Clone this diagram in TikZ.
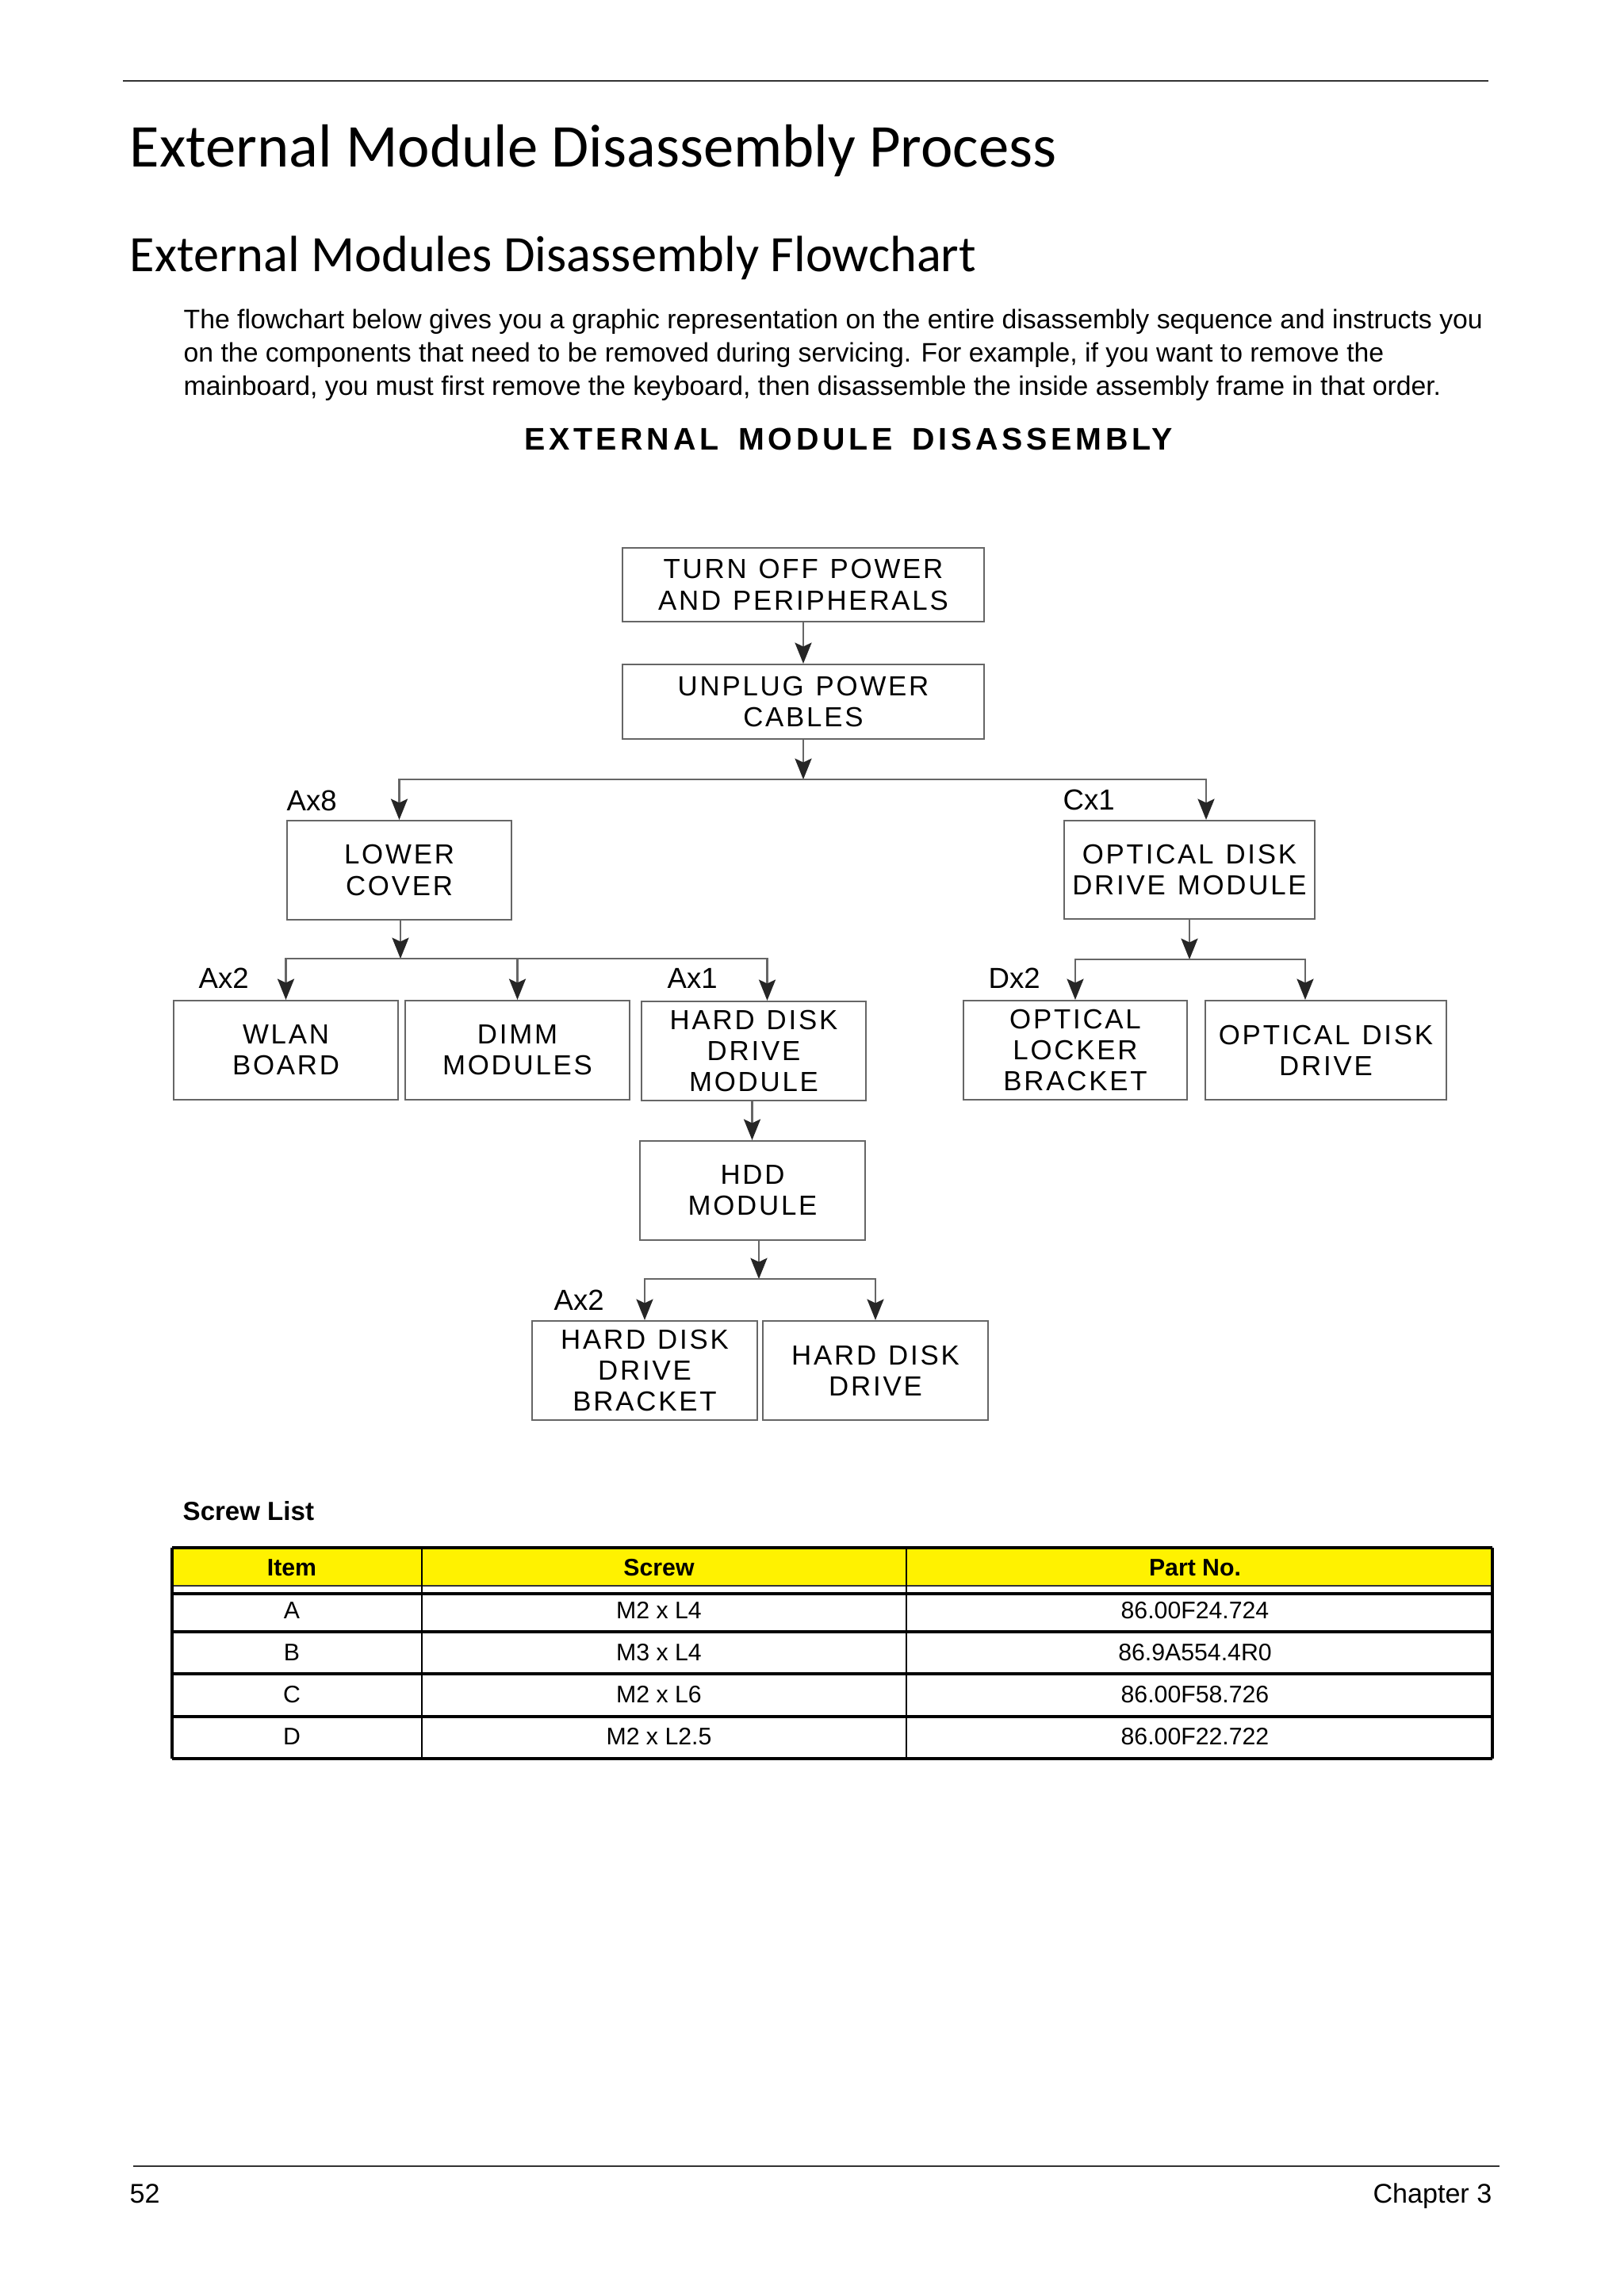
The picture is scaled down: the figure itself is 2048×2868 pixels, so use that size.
\documentclass[tikz,border=0pt]{standalone}
\usepackage{fontspec}
\setmainfont{Liberation Sans}
\newfontfamily\titlefont{Carlito}
\newfontfamily\boxfont[LetterSpace=8,WordSpace=1.2]{Liberation Sans}
\newfontfamily\headfont[LetterSpace=12,WordSpace=1.6]{Liberation Sans}
\usetikzlibrary{arrows.meta,positioning}

\tikzset{
  stepbox/.style={draw=black!60, line width=0.6pt, align=center, inner sep=0pt,
    font=\boxfont\fontsize{9.9}{11.1}\selectfont},
  unitbox/.style={stepbox, minimum width=2.83cm, minimum height=1.25cm},
  flow/.style={draw=black!60, line width=0.6pt,
    -{Stealth[length=7.5pt,width=6pt,inset=1.4pt,color=black!85]}},
  screwcount/.style={font=\fontsize{10.4}{12}\selectfont, anchor=base west, inner sep=0pt},
  cell/.style={font=\fontsize{8.6}{10}\selectfont, inner sep=0pt},
  headcell/.style={font=\bfseries\fontsize{8.6}{10}\selectfont, inner sep=0pt},
  pagerule/.style={line width=0.7pt, black!80},
}

\begin{document}
\begin{tikzpicture}[x=0.01cm,y=-0.01cm]

\useasboundingbox (0,0) rectangle (2048,2868);
\fill[white] (0,0) rectangle (2048,2868);

% page head
\draw[pagerule] (155,102) -- (1877,102);
\node[font=\titlefont\fontsize{21.8}{25}\selectfont, anchor=base west, inner sep=0pt] (title) at (163,210) {External Module Disassembly Process};
\node[font=\titlefont\fontsize{18.3}{21}\selectfont, anchor=base west, inner sep=0pt] (subtitle) at (163,342) {External Modules Disassembly Flowchart};
\node[font=\fontsize{9.6}{11.95}\selectfont, anchor=north west, inner sep=0pt, align=left] (intro) at (231,389)
  {The flowchart below gives you a graphic representation on the entire disassembly sequence and instructs you\\
   on the components that need to be removed during servicing. For example, if you want to remove the\\
   mainboard, you must first remove the keyboard, then disassemble the inside assembly frame in that order.};
\node[font=\headfont\bfseries\fontsize{11.2}{13}\selectfont, anchor=base, inner sep=0pt] (chart) at (1070,567) {EXTERNAL MODULE DISASSEMBLY};

% flowchart
\node[stepbox, minimum width=4.56cm, minimum height=0.93cm] (off) at (1013,737.5) {TURN OFF POWER\\AND PERIPHERALS};
\node[stepbox, minimum width=4.56cm, minimum height=0.94cm] (unplug) at (1013,885) {UNPLUG POWER\\CABLES};

\node[unitbox] (lower) at (503.5,1097.5) {LOWER\\COVER};
\node[stepbox, minimum width=3.16cm, minimum height=1.24cm] (odm) at (1500,1097) {OPTICAL DISK\\DRIVE MODULE};

\node[unitbox] (wlan) at (360.5,1324.5) {WLAN\\BOARD};
\node[unitbox] (dimm) at (652.5,1324.5) {DIMM\\MODULES};
\node[unitbox] (hddm) at (950.5,1325.5) {HARD DISK\\DRIVE\\MODULE};
\node[stepbox, minimum width=2.82cm, minimum height=1.25cm] (locker) at (1356,1324.5) {OPTICAL\\LOCKER\\BRACKET};
\node[stepbox, minimum width=3.04cm, minimum height=1.25cm] (odd) at (1672,1324.5) {OPTICAL DISK\\DRIVE};

\node[unitbox] (hddmod) at (949,1501.5) {HDD\\MODULE};
\node[unitbox] (bracket) at (813,1728.5) {HARD DISK\\DRIVE\\BRACKET};
\node[unitbox] (hdd) at (1104,1728.5) {HARD DISK\\DRIVE};

\node[screwcount] (ax8) at (361,1022) {Ax8};
\node[screwcount] (cx1) at (1340,1021) {Cx1};
\node[screwcount] (ax2) at (250,1246) {Ax2};
\node[screwcount] (ax1) at (841,1246) {Ax1};
\node[screwcount] (dx2) at (1246,1246) {Dx2};
\node[screwcount] (ax2b) at (698,1652) {Ax2};

\coordinate (j1) at (1013,983);
\coordinate (j2) at (505,1209);
\coordinate (j3) at (957,1613);
\coordinate (j4) at (1500,1210);

\draw[flow] (off) -- (unplug);
\draw[flow] (unplug) -- (j1);
\draw[flow] (j1) -| (lower.north);
\draw[flow] (j1) -| ([xshift=0.21cm]odm.north);

\draw[flow] (lower.south -| j2) -- (j2);
\draw[flow] (j2) -| (wlan.north);
\draw[flow] (j2) -| (dimm.north);
\draw[flow] (j2) -| ([xshift=0.17cm]hddm.north);

\draw[flow] ([xshift=-0.02cm]hddm.south) -- ([xshift=-0.02cm]hddm.south |- hddmod.north);
\draw[flow] (j3 |- hddmod.south) -- (j3);
\draw[flow] (j3) -| (bracket.north);
\draw[flow] (j3) -| (hdd.north);

\draw[flow] (odm) -- (j4);
\draw[flow] (j4) -| (locker.north);
\draw[flow] (j4) -| ([xshift=-0.26cm]odd.north);

% screw list
\node[font=\bfseries\fontsize{9.4}{11}\selectfont, anchor=base west, inner sep=0pt] (screwlist) at (230,1917) {Screw List};

\fill[yellow] (217,1952) rectangle (1882,2000);
\draw[line width=1.2pt] (217,1952) -- (1882,1952);
\draw[line width=0.8pt, black!80] (217,2000) -- (1882,2000);
\draw[line width=1.1pt] (217,2010) -- (1882,2010);
\draw[line width=1.1pt] (217,2058) -- (1882,2058);
\draw[line width=1.1pt] (217,2111) -- (1882,2111);
\draw[line width=1.1pt] (217,2165) -- (1882,2165);
\draw[line width=1.3pt] (217,2218) -- (1882,2218);
\draw[line width=0.9pt] (217,1952) -- (217,2218);
\draw[line width=0.8pt] (532,1952) -- (532,2218);
\draw[line width=0.8pt] (1143,1952) -- (1143,2218);
\draw[line width=0.9pt] (1882,1952) -- (1882,2218);

\node[headcell] (hitem) at (368,1977) {Item};
\node[headcell] (hscrew) at (831,1977) {Screw};
\node[headcell] (hpart) at (1507,1977) {Part No.};

\node[cell] (ia) at (368,2031) {A};
\node[cell] (sa) at (831,2031) {M2 x L4};
\node[cell] (pa) at (1507,2031) {86.00F24.724};
\node[cell] (ib) at (368,2084) {B};
\node[cell] (sb) at (831,2084) {M3 x L4};
\node[cell] (pb) at (1507,2084) {86.9A554.4R0};
\node[cell] (ic) at (368,2137) {C};
\node[cell] (sc) at (831,2137) {M2 x L6};
\node[cell] (pc) at (1507,2137) {86.00F58.726};
\node[cell] (id) at (368,2190) {D};
\node[cell] (sd) at (831,2190) {M2 x L2.5};
\node[cell] (pd) at (1507,2190) {86.00F22.722};

% page foot
\draw[pagerule] (168,2732) -- (1891,2732);
\node[font=\fontsize{9.7}{12}\selectfont, anchor=base west, inner sep=0pt] (pageno) at (163,2778) {52};
\node[font=\fontsize{9.7}{12}\selectfont, anchor=base east, inner sep=0pt] (chapter) at (1882,2778) {Chapter 3};

\end{tikzpicture}
\end{document}
